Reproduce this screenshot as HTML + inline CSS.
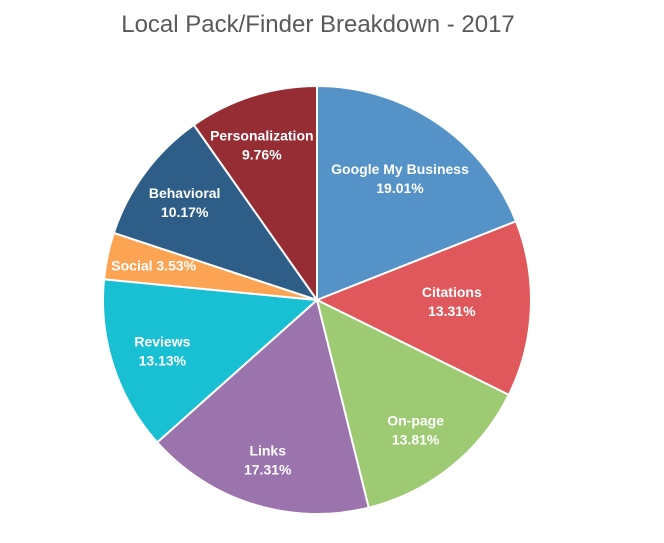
<!DOCTYPE html>
<html><head><meta charset="utf-8"><style>
html,body{margin:0;padding:0;background:#fff;}
svg{display:block;font-family:"Liberation Sans",sans-serif;}
</style></head><body>
<svg width="664" height="543" viewBox="0 0 664 543">
<text x="318" y="32" text-anchor="middle" font-size="24" fill="#595959">Local Pack/Finder Breakdown - 2017</text>
<g id="slices"></g>
<g id="labels"></g>
</svg>
<script>
const categories = ["Google My Business","Citations","On-page","Links","Reviews","Social","Behavioral","Personalization"];
const values = [19.01,13.31,13.81,17.31,13.13,3.53,10.17,9.76];
const colors = ["#5592c8","#e0585b","#9dca73","#9b73ad","#19bfd2","#fda354","#2e5e87","#962c34"];
const labelFrac = [0.69,0.63,0.76,0.78,0.76,0.78,0.77,0.77];
const labelTurn = [0,-2,1.5,0,0,0,0,-2];
const oneLine = [false,false,false,false,false,true,false,false];
const cx=317, cy=300, R=214;
const NS="http://www.w3.org/2000/svg";
const total = values.reduce((a,b)=>a+b,0);
const sg=document.getElementById('slices'), lg=document.getElementById('labels');
function pt(a,r){return [cx+r*Math.sin(a), cy-r*Math.cos(a)];}
let acc=0;
values.forEach((v,i)=>{
  const a0=acc/total*2*Math.PI; acc+=v; const a1=acc/total*2*Math.PI;
  const p0=pt(a0,R), p1=pt(a1,R);
  const large=(a1-a0)>Math.PI?1:0;
  const p=document.createElementNS(NS,'path');
  p.setAttribute('d',`M${cx},${cy} L${p0[0]},${p0[1]} A${R},${R} 0 ${large} 1 ${p1[0]},${p1[1]} Z`);
  p.setAttribute('fill',colors[i]);
  p.setAttribute('stroke','#fff');
  p.setAttribute('stroke-width','2');
  
  
  sg.appendChild(p);
  const m=(a0+a1)/2+labelTurn[i]*Math.PI/180, lp=pt(m,R*labelFrac[i]);
  const t=document.createElementNS(NS,'text');
  t.setAttribute('text-anchor','middle');
  t.setAttribute('fill','#fff');
  t.setAttribute('font-size','14');
  t.setAttribute('font-weight','bold');
  
  
  const pct=v.toFixed(2)+'%';
  if(oneLine[i]){
    t.setAttribute('x',lp[0]); t.setAttribute('y',lp[1]+5);
    t.textContent=categories[i]+' '+pct;
  } else {
    const s1=document.createElementNS(NS,'tspan');
    s1.setAttribute('x',lp[0]); s1.setAttribute('y',lp[1]-4);
    s1.textContent=categories[i];
    const s2=document.createElementNS(NS,'tspan');
    s2.setAttribute('x',lp[0]); s2.setAttribute('y',lp[1]+15);
    s2.textContent=pct;
    t.appendChild(s1); t.appendChild(s2);
  }
  lg.appendChild(t);
});
</script>
</body></html>
